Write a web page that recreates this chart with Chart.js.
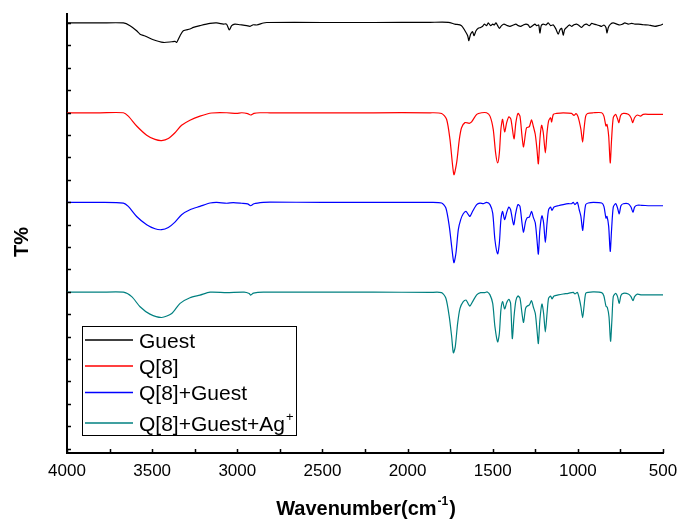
<!DOCTYPE html>
<html>
<head>
<meta charset="utf-8">
<title>FTIR spectra</title>
<script src="https://cdn.jsdelivr.net/npm/chart.js@4.4.1/dist/chart.umd.min.js"></script>
<style>
    html, body { margin: 0; padding: 0; background: #fff; }
    #wrap { width: 679px; height: 520px; }
</style>
</head>
<body>
<div id="wrap"><canvas id="chart" width="679" height="520"></canvas></div>
<script>
// series names (the last one carries a superscript "+")
const seriesNames = ['Guest', 'Q[8]', 'Q[8]+Guest', 'Q[8]+Guest+Ag'];
const seriesSup = ['', '', '', '+'];
const seriesColors = ['#000000', '#ff0000', '#0000ff', '#008080'];

// wavenumber (cm-1) / T% (offset traces, arbitrary units)
const guestWn = [4000, 3806, 3669, 3630, 3591, 3571, 3542, 3493, 3435, 3385, 3366, 3356, 3336, 3317, 3278, 3258,
    3219, 3160, 3121, 3082, 3063, 3047, 3033, 3014, 2984, 2945, 2925, 2906, 2886, 2847, 2827, 2500, 2200, 1868,
    1761, 1722, 1683, 1663, 1647, 1640, 1630, 1618, 1610, 1598, 1585, 1571, 1559, 1549, 1536, 1526, 1512, 1500,
    1491, 1481, 1471, 1461, 1448, 1434, 1414, 1399, 1379, 1364, 1350, 1336, 1320, 1305, 1291, 1281, 1266, 1252,
    1242, 1230, 1223, 1215, 1203, 1187, 1174, 1160, 1144, 1129, 1115, 1105, 1095, 1086, 1078, 1066, 1050, 1037,
    1023, 1007, 992, 978, 964, 949, 933, 919, 906, 890, 874, 860, 847, 835, 829, 821, 808, 792, 772, 753, 737,
    724, 704, 684, 665, 645, 616, 586, 567, 547, 528, 508, 500];
const guestT = [19.00, 19.00, 19.00, 18.88, 18.65, 18.50, 18.42, 18.25, 18.13, 18.16, 18.18, 18.13, 18.43, 18.65, 18.73, 18.80,
    18.88, 18.98, 19.00, 18.95, 18.95, 18.69, 18.88, 18.95, 18.92, 18.88, 18.85, 18.92, 18.91, 19.00, 19.02, 19.02, 19.02, 19.03,
    19.03, 18.95, 18.88, 18.65, 18.43, 18.21, 18.50, 18.61, 18.43, 18.65, 18.76, 18.80, 18.85, 18.95, 18.88, 19.00, 18.88, 18.95,
    18.91, 19.00, 18.88, 18.76, 18.88, 18.95, 18.88, 18.85, 18.91, 18.95, 18.88, 18.85, 18.91, 18.95, 18.91, 18.80, 18.88, 18.95,
    18.88, 18.91, 18.55, 18.88, 18.95, 18.91, 19.00, 18.88, 18.91, 18.73, 18.50, 18.70, 18.76, 18.46, 18.70, 18.80, 18.91, 18.85,
    18.92, 18.95, 18.88, 18.80, 18.91, 18.95, 18.88, 18.98, 18.95, 18.92, 18.88, 18.85, 18.91, 18.80, 18.55, 18.80, 18.95, 19.00, 18.95, 18.91, 18.95,
    19.00, 18.95, 18.98, 18.95, 18.95, 18.92, 18.91, 18.88, 18.85, 18.88, 18.92, 18.95];

const q8Wn = [4000, 3806, 3669, 3640, 3591, 3532, 3483, 3444, 3405, 3366, 3327, 3278, 3219, 3150, 3062, 3004, 2974,
    2939, 2922, 2902, 2867, 2808, 2500, 2200, 1868, 1800, 1771, 1751, 1728, 1712, 1696, 1683, 1663, 1638, 1624,
    1594, 1565, 1536, 1516, 1497, 1483, 1471, 1461, 1452, 1442, 1430, 1418, 1405, 1393, 1375, 1364, 1352, 1340,
    1328, 1319, 1307, 1301, 1285, 1272, 1262, 1250, 1240, 1232, 1223, 1213, 1203, 1191, 1181, 1172, 1160, 1154,
    1144, 1125, 1086, 1037, 1023, 1011, 1000, 992, 982, 972, 964, 954, 943, 909, 860, 847, 835, 829, 819, 810,
    802, 792, 778, 767, 759, 749, 733, 704, 688, 678, 667, 651, 632, 616, 577, 500];
const q8T = [14.99, 14.99, 14.99, 14.84, 14.40, 13.99, 13.80, 13.75, 13.84, 14.10, 14.43, 14.66, 14.84, 14.98, 14.99, 14.96, 14.99,
    14.95, 14.89, 14.96, 14.99, 14.99, 14.99, 14.99, 14.99, 14.96, 14.70, 13.80, 12.23, 12.75, 13.80, 14.32, 14.55, 14.52, 14.58,
    14.92, 14.99, 14.99, 14.84, 14.25, 13.20, 12.75, 13.20, 14.25, 14.70, 14.14, 14.55, 14.81, 14.70, 13.83, 14.55, 14.96, 14.84,
    13.95, 13.47, 14.10, 14.32, 14.37, 14.67, 14.40, 14.02, 13.35, 12.71, 13.80, 14.43, 14.10, 13.20, 14.10, 14.62, 14.77, 14.58,
    14.92, 14.96, 14.99, 14.96, 14.87, 14.95, 14.84, 14.62, 14.25, 13.68, 14.25, 14.84, 14.96, 14.99, 14.99, 14.84, 14.40, 14.47, 13.95, 12.75,
    13.80, 14.77, 14.92, 14.72, 14.55, 14.87, 14.96, 14.92, 14.77, 14.55, 14.77, 14.89, 14.84, 14.92, 14.92, 14.92];

const q8GuestWn = [4000, 3806, 3669, 3640, 3591, 3532, 3483, 3444, 3405, 3366, 3327, 3278, 3219, 3160, 3121, 3062, 3023,
    2974, 2939, 2922, 2902, 2847, 2808, 2500, 2200, 1868, 1800, 1775, 1755, 1741, 1728, 1716, 1702, 1688, 1673,
    1657, 1643, 1634, 1618, 1594, 1575, 1555, 1536, 1516, 1500, 1487, 1471, 1461, 1452, 1442, 1430, 1418, 1405,
    1395, 1377, 1365, 1352, 1340, 1328, 1319, 1307, 1297, 1285, 1272, 1262, 1250, 1240, 1232, 1223, 1211, 1201,
    1191, 1181, 1172, 1160, 1152, 1140, 1115, 1086, 1056, 1037, 1027, 1017, 1003, 992, 982, 972, 964, 954, 939,
    909, 860, 847, 835, 829, 819, 810, 802, 792, 778, 767, 757, 747, 733, 704, 688, 676, 667, 651, 626, 577, 500];
const q8GuestT = [10.99, 10.99, 10.96, 10.81, 10.36, 9.99, 9.81, 9.77, 9.87, 10.11, 10.44, 10.66, 10.81, 10.96, 10.99, 10.95, 10.98,
    10.95, 10.92, 10.84, 10.93, 10.99, 11.00, 10.99, 10.99, 10.99, 10.96, 10.74, 9.92, 9.02, 8.30, 8.72, 9.77, 10.22, 10.48,
    10.59, 10.44, 10.36, 10.59, 10.89, 10.96, 10.93, 10.99, 10.89, 10.51, 9.32, 8.69, 9.17, 10.22, 10.59, 10.22, 10.54, 10.78,
    10.66, 9.99, 10.51, 10.89, 10.81, 10.07, 9.66, 10.14, 10.31, 10.33, 10.59, 10.33, 10.07, 9.32, 8.68, 9.77, 10.39, 10.07,
    9.20, 10.07, 10.66, 10.78, 10.63, 10.78, 10.84, 10.89, 10.93, 10.93, 10.99, 10.89, 10.99, 10.66, 10.36, 9.74, 10.29, 10.89, 10.96,
    10.99, 10.96, 10.81, 10.29, 10.36, 9.92, 8.80, 9.77, 10.78, 10.93, 10.74, 10.48, 10.84, 10.93, 10.93, 10.78, 10.54, 10.78, 10.86, 10.86, 10.84, 10.84];

const q8GuestAgWn = [4000, 3806, 3669, 3620, 3571, 3513, 3444, 3385, 3336, 3278, 3219, 3160, 3062, 2960, 2930, 2921,
    2905, 2847, 2500, 2200, 1868, 1800, 1775, 1755, 1741, 1731, 1720, 1706, 1692, 1673, 1657, 1643, 1634, 1618,
    1594, 1571, 1546, 1532, 1516, 1500, 1487, 1471, 1461, 1452, 1442, 1430, 1418, 1405, 1395, 1385, 1375, 1364,
    1352, 1340, 1328, 1319, 1307, 1297, 1285, 1272, 1262, 1250, 1240, 1232, 1223, 1211, 1201, 1191, 1181, 1172,
    1160, 1152, 1140, 1115, 1086, 1056, 1037, 1027, 1017, 1003, 992, 982, 972, 964, 954, 939, 909, 860, 847, 835,
    827, 817, 808, 800, 792, 778, 767, 757, 747, 733, 704, 688, 676, 667, 651, 626, 577, 500];
const q8GuestAgT = [6.98, 6.98, 6.98, 6.78, 6.33, 6.00, 5.85, 6.03, 6.48, 6.73, 6.85, 6.98, 6.96, 6.98, 6.92, 6.85,
    6.94, 6.98, 6.98, 6.98, 6.97, 6.96, 6.71, 5.88, 4.99, 4.27, 4.54, 5.59, 6.26, 6.56, 6.63, 6.45, 6.36, 6.56,
    6.86, 6.96, 6.96, 6.99, 6.86, 6.48, 5.44, 4.76, 5.14, 6.18, 6.56, 6.23, 6.51, 6.66, 6.48, 4.91, 5.88, 6.60,
    6.81, 6.71, 6.03, 5.63, 6.26, 6.36, 6.41, 6.60, 6.33, 6.03, 5.29, 4.69, 5.74, 6.45, 6.03, 5.21, 6.03, 6.71,
    6.81, 6.68, 6.81, 6.86, 6.90, 6.93, 6.96, 6.97, 6.90, 6.97, 6.71, 6.33, 5.84, 6.33, 6.93, 6.97, 6.99, 6.96, 6.81, 6.36,
    6.30, 5.88, 4.79, 5.74, 6.78, 6.93, 6.78, 6.48, 6.83, 6.93, 6.90, 6.78, 6.60, 6.78, 6.89, 6.86, 6.86, 6.86];

// axis ticks
const xTickValues = [500, 750, 1000, 1250, 1500, 1750, 2000, 2250, 2500, 2750, 3000, 3250, 3500, 3750, 4000];
const xTickLabels = ['500', '', '1000', '', '1500', '', '2000', '', '2500', '', '3000', '', '3500', '', '4000'];
const yTickValues = [0, 1, 2, 3, 4, 5, 6, 7, 8, 9, 10, 11, 12, 13, 14, 15, 16, 17, 18, 19];

const FONT = "'Liberation Sans', Arial, Helvetica, sans-serif";

function toPoints(wn, t) {
    return wn.map((w, i) => ({ x: w, y: t[i] }));
}

const traces = [[guestWn, guestT], [q8Wn, q8T], [q8GuestWn, q8GuestT], [q8GuestAgWn, q8GuestAgT]];

// little inward tick marks, like the original plot
const insideTicks = {
    id: 'insideTicks',
    afterDraw(chart) {
        const { ctx, chartArea, scales: { x, y } } = chart;
        ctx.save();
        ctx.strokeStyle = '#000';
        ctx.lineWidth = 1.5;
        ctx.beginPath();
        xTickValues.forEach(v => {
            const px = Math.round(x.getPixelForValue(v)) + 0.5;
            ctx.moveTo(px, chartArea.bottom);
            ctx.lineTo(px, chartArea.bottom - 4);
        });
        yTickValues.forEach(v => {
            const py = Math.round(y.getPixelForValue(v)) + 0.5;
            ctx.moveTo(chartArea.left, py);
            ctx.lineTo(chartArea.left + 4, py);
        });
        ctx.stroke();
        ctx.restore();
    }
};

// axis titles with a real superscript
const axisTitles = {
    id: 'axisTitles',
    afterDraw(chart) {
        const { ctx, chartArea } = chart;
        ctx.save();
        ctx.fillStyle = '#000';
        ctx.textBaseline = 'alphabetic';
        ctx.textAlign = 'left';

        const big = `bold 20px ${FONT}`;
        const small = `bold 12px ${FONT}`;
        const a = 'Wavenumber(cm', b = '-1', c = ')';
        ctx.font = big;
        const wa = ctx.measureText(a).width, wc = ctx.measureText(c).width;
        ctx.font = small;
        const wb = ctx.measureText(b).width;
        const cx = (chartArea.left + chartArea.right) / 2;
        let x0 = cx - (wa + wb + wc) / 2;
        const base = 515;
        ctx.font = big;
        ctx.fillText(a, x0, base);
        ctx.font = small;
        ctx.fillText(b, x0 + wa + 1, base - 10);
        ctx.font = big;
        ctx.fillText(c, x0 + wa + wb + 2, base);

        ctx.translate(28, 242);
        ctx.rotate(-Math.PI / 2);
        ctx.textAlign = 'center';
        ctx.font = big;
        ctx.fillText('T%', 0, 0);
        ctx.restore();
    }
};

// boxed legend in the lower left corner
const boxLegend = {
    id: 'boxLegend',
    afterDraw(chart) {
        const { ctx } = chart;
        const rowY = [340, 366, 392.5, 423];
        ctx.save();
        ctx.fillStyle = '#fff';
        ctx.fillRect(82, 326, 215, 110);
        ctx.strokeStyle = '#000';
        ctx.lineWidth = 1;
        ctx.strokeRect(82.5, 326.5, 214, 109);

        chart.data.datasets.forEach((ds, i) => {
            const yy = rowY[i];
            ctx.strokeStyle = ds.borderColor;
            ctx.lineWidth = 1.6;
            ctx.beginPath();
            ctx.moveTo(85, yy);
            ctx.lineTo(133, yy);
            ctx.stroke();

            ctx.fillStyle = '#000';
            ctx.textBaseline = 'alphabetic';
            ctx.textAlign = 'left';
            ctx.font = `21px ${FONT}`;
            const base = yy + 7.5;
            ctx.fillText(seriesNames[i], 139, base);
            if (seriesSup[i]) {
                const w = ctx.measureText(seriesNames[i]).width;
                ctx.font = `13px ${FONT}`;
                ctx.fillText(seriesSup[i], 139 + w + 1, base - 10);
            }
        });
        ctx.restore();
    }
};

new Chart(document.getElementById('chart'), {
    type: 'line',
    data: {
        datasets: traces.map((tr, i) => ({
            label: seriesNames[i] + (seriesSup[i] ? '\u207A' : ''),
            data: toPoints(tr[0], tr[1]),
            borderColor: seriesColors[i],
            borderWidth: 1.2,
            pointRadius: 0,
            tension: 0.25,
            fill: false
        }))
    },
    options: {
        responsive: false,
        animation: false,
        layout: { padding: { top: 14, right: 16, left: 0, bottom: 0 } },
        plugins: {
            legend: { display: false },
            tooltip: { enabled: false }
        },
        scales: {
            x: {
                type: 'linear',
                reverse: true,
                min: 500,
                max: 4000,
                afterFit: s => { s.height = 67; },
                afterBuildTicks: s => { s.ticks = xTickValues.map(v => ({ value: v })); },
                grid: { display: false, drawTicks: false },
                border: { display: true, color: '#000', width: 2 },
                ticks: {
                    autoSkip: false,
                    maxRotation: 0,
                    padding: 8,
                    color: '#000',
                    font: { family: FONT, size: 17 },
                    callback: (v) => xTickLabels[xTickValues.indexOf(v)]
                }
            },
            y: {
                type: 'linear',
                min: -0.2,
                max: 19.4,
                afterFit: s => { s.width = 67; },
                grid: { display: false, drawTicks: false },
                border: { display: true, color: '#000', width: 2 },
                ticks: { display: false }
            }
        }
    },
    plugins: [insideTicks, axisTitles, boxLegend]
});
</script>
</body>
</html>
